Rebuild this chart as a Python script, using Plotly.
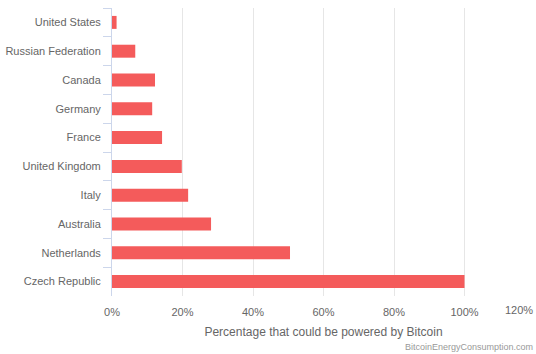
import plotly.graph_objects as go

countries = ["United States", "Russian Federation", "Canada", "Germany", "France",
             "United Kingdom", "Italy", "Australia", "Netherlands", "Czech Republic"]
percent = [1.3, 6.6, 12.2, 11.4, 14.2, 19.8, 21.6, 28.1, 50.5, 100.0]
x_ticks = [0, 20, 40, 60, 80, 100]
x_tick_labels = ["0%", "20%", "40%", "60%", "80%", "100%"]
last_tick = 120
last_tick_label = "120%"
axis_title = "Percentage that could be powered by Bitcoin"
credit = "BitcoinEnergyConsumption.com"

font_family = "Liberation Sans, Arial, sans-serif"

fig = go.Figure(go.Bar(
    x=percent, y=countries, orientation="h",
    marker=dict(color="#F45B5B", line=dict(width=0)),
    width=0.45,
))

fig.update_layout(
    width=536, height=354,
    margin=dict(l=112, r=1, t=8, b=58),
    paper_bgcolor="white", plot_bgcolor="white",
    font=dict(family=font_family, size=11, color="#666666"),
    showlegend=False,
    xaxis=dict(
        range=[0, last_tick], tickvals=x_ticks, ticktext=x_tick_labels,
        showgrid=True, gridcolor="#e6e6e6", gridwidth=1,
        zeroline=False, showline=False, ticks="",
        ticklabelstandoff=8,
        tickfont=dict(size=11, color="#666666"),
        title=dict(text=axis_title, font=dict(size=12, color="#666666"), standoff=10),
        automargin=False, fixedrange=True,
    ),
    yaxis=dict(
        categoryorder="array", categoryarray=countries, autorange="reversed",
        showline=True, linecolor="#ccd6eb", linewidth=1,
        ticks="outside", tickson="boundaries", ticklen=8, tickcolor="#ccd6eb",
        ticklabelstandoff=8,
        showgrid=False, zeroline=False,
        tickfont=dict(size=11, color="#666666"),
        automargin=False, fixedrange=True,
    ),
    annotations=[
        dict(text=last_tick_label, x=last_tick, xref="x", xanchor="right",
             y=-0.049, yref="paper", yanchor="middle", showarrow=False,
             font=dict(size=11, color="#666666", family=font_family)),
        dict(text=credit, x=1, xref="paper", xanchor="right",
             y=-0.177, yref="paper", yanchor="middle", showarrow=False,
             font=dict(size=9, color="#999999", family=font_family)),
    ],
)

fig.write_html("out.html")
